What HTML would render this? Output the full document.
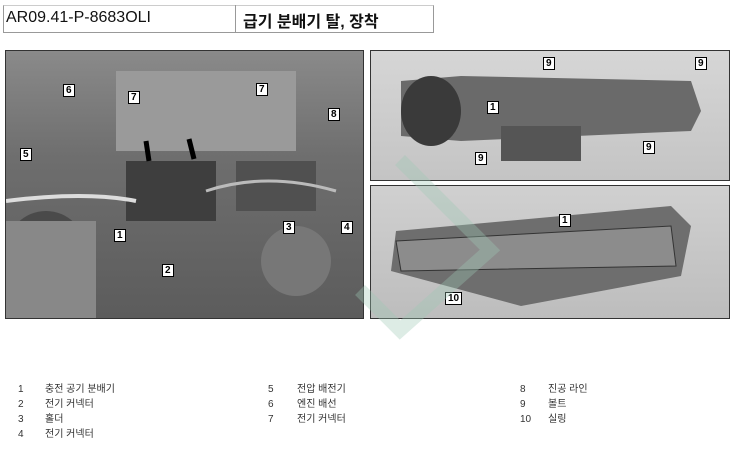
<!DOCTYPE html>
<html><head><meta charset="utf-8"><style>
body{margin:0;width:743px;height:458px;background:#fff;position:relative;overflow:hidden;font-family:"Liberation Sans","Noto Sans CJK KR",sans-serif}
.a{position:absolute}
.hdr{left:3px;top:5px;width:429px;height:26px;border:1px solid #999;border-top:1px solid #ccc;background:#fff}
.p{border:1px solid #333;overflow:hidden}
.lg{position:absolute;font-size:10px;color:#333}
.n{position:absolute;font-size:10px;font-weight:bold;background:#fff;border:1px solid #000;padding:0 2px;line-height:11px}
</style></head><body>
<div class="a hdr"></div>
<div class="a" style="left:235px;top:5px;width:1px;height:27px;background:#999"></div>
<div class="a" style="left:6px;top:9px;font-size:16px;color:#111">AR09.41-P-8683OLI</div>
<div class="a" style="left:243px;top:8px;font-size:16px;color:#111;font-weight:bold">급기 분배기 탈, 장착</div>

<div class="a p" style="left:5px;top:50px;width:357px;height:267px;background:linear-gradient(180deg,#8a8a8a,#6e6e6e 40%,#5c5c5c)">
<svg width="357" height="267" style="position:absolute;left:0;top:0">
<rect x="110" y="20" width="180" height="80" fill="#9a9a9a"/>
<rect x="120" y="110" width="90" height="60" fill="#3e3e3e"/>
<rect x="230" y="110" width="80" height="50" fill="#505050"/>
<circle cx="40" cy="200" r="40" fill="#4a4a4a"/>
<rect x="0" y="170" width="90" height="97" fill="#888"/>
<circle cx="290" cy="210" r="35" fill="#777"/>
<path d="M0 150 Q80 140 130 150" stroke="#ddd" stroke-width="4" fill="none"/>
<path d="M200 140 Q260 120 330 140" stroke="#bbb" stroke-width="3" fill="none"/>
<path d="M140 90 L143 110" stroke="#000" stroke-width="5"/>
<path d="M183 88 L188 108" stroke="#000" stroke-width="5"/>
</svg>
<div class="n" style="left:57px;top:33px">6</div><div class="n" style="left:122px;top:40px">7</div>
<div class="n" style="left:250px;top:32px">7</div><div class="n" style="left:322px;top:57px">8</div>
<div class="n" style="left:14px;top:97px">5</div><div class="n" style="left:108px;top:178px">1</div>
<div class="n" style="left:156px;top:213px">2</div><div class="n" style="left:277px;top:170px">3</div>
<div class="n" style="left:335px;top:170px">4</div>
</div>

<div class="a p" style="left:370px;top:50px;width:358px;height:129px;background:linear-gradient(180deg,#d6d6d6,#c4c4c4)">
<svg width="358" height="129" style="position:absolute;left:0;top:0">
<path d="M30 30 L90 25 L320 30 L330 60 L320 80 L90 90 L30 85 Z" fill="#6a6a6a"/>
<ellipse cx="60" cy="60" rx="30" ry="35" fill="#3a3a3a"/>
<rect x="130" y="75" width="80" height="35" fill="#555"/>
</svg>
<div class="n" style="left:172px;top:6px">9</div><div class="n" style="left:324px;top:6px">9</div>
<div class="n" style="left:116px;top:50px">1</div><div class="n" style="left:104px;top:101px">9</div>
<div class="n" style="left:272px;top:90px">9</div>
</div>

<div class="a p" style="left:370px;top:185px;width:358px;height:132px;background:linear-gradient(180deg,#d0d0d0,#bdbdbd)">
<svg width="358" height="132" style="position:absolute;left:0;top:0">
<path d="M25 45 L300 20 L320 40 L310 90 L150 120 L20 85 Z" fill="#6e6e6e"/>
<path d="M25 55 L300 40 L305 80 L30 85 Z" fill="#8c8c8c" stroke="#333"/>
</svg>
<div class="n" style="left:188px;top:28px">1</div><div class="n" style="left:74px;top:106px">10</div>
</div>

<svg class="a" style="left:300px;top:140px" width="200" height="200"><path d="M100 20 L190 110 L100 190 L60 150" stroke="#9fc8b4" stroke-width="14" fill="none" opacity=".35"/></svg>

<div class="lg" style="left:18px;top:382px;line-height:15px">1<br>2<br>3<br>4</div>
<div class="lg" style="left:45px;top:382px;line-height:15px">충전 공기 분배기<br>전기 커넥터<br>홀더<br>전기 커넥터</div>
<div class="lg" style="left:268px;top:382px;line-height:15px">5<br>6<br>7</div>
<div class="lg" style="left:297px;top:382px;line-height:15px">전압 배전기<br>엔진 배선<br>전기 커넥터</div>
<div class="lg" style="left:520px;top:382px;line-height:15px">8<br>9<br>10</div>
<div class="lg" style="left:548px;top:382px;line-height:15px">진공 라인<br>볼트<br>실링</div>
</body></html>
